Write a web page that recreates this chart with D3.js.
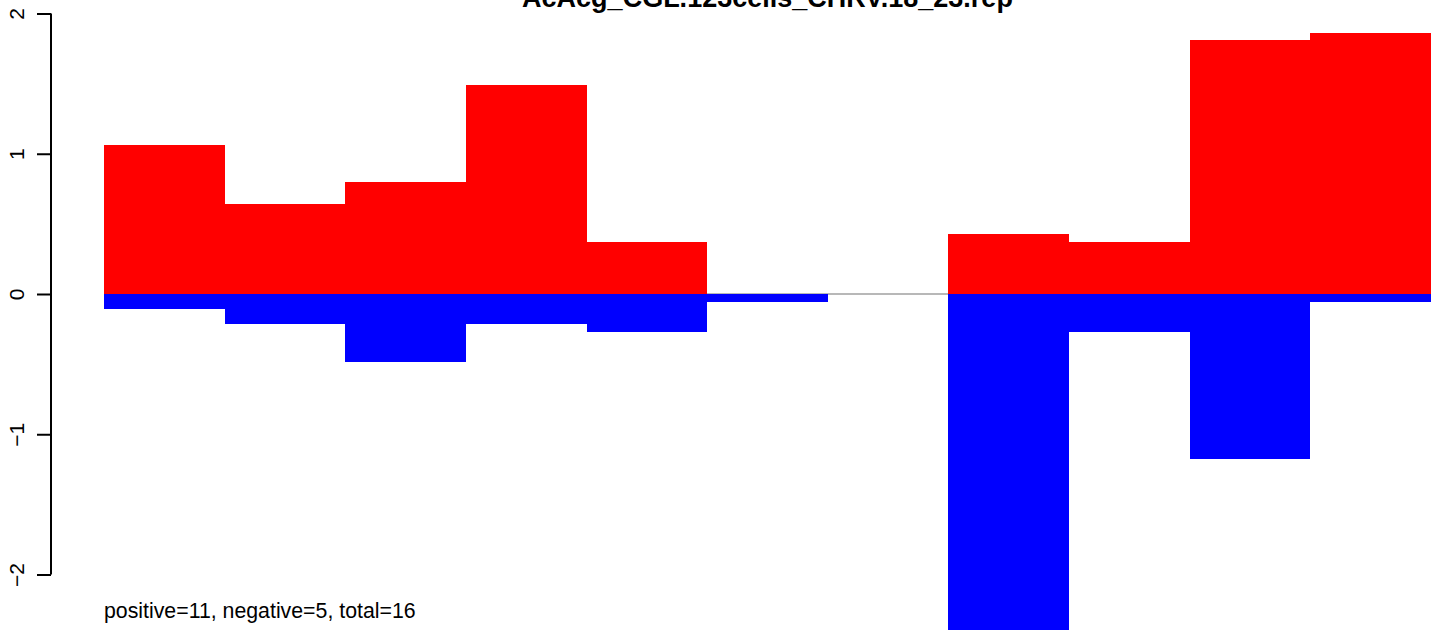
<!DOCTYPE html>
<html><head><meta charset="utf-8">
<script src="https://cdn.jsdelivr.net/npm/d3@7"></script>
<style>html,body{margin:0;padding:0;background:#fff;} svg{display:block;}</style>
</head><body>
<script>
const title = "AcAcg_CGL.123cells_CHRV.18_23.rep";
const bins = [1,2,3,4,5,6,7,8,9,10,11];
const positiveValues = [1.064, 0.643, 0.80, 1.493, 0.371, 0, 0, 0.429, 0.371, 1.814, 1.864];
const negativeValues = [-0.107, -0.214, -0.486, -0.214, -0.271, -0.057, 0, -2.394, -0.271, -1.179, -0.057];
const yTicks = [-2, -1, 0, 1, 2];
const footnote = "positive=11, negative=5, total=16";

const W = 1444, H = 641;
const svg = d3.select("body").append("svg").attr("width", W).attr("height", H);
const font = "Liberation Sans, Arial, Helvetica, sans-serif";

const x = d3.scaleLinear().domain([0, bins.length]).range([104, 1431]);
const y = d3.scaleLinear().domain([-2, 2]).range([574.5, 13.5]);

// zero line
svg.append("line").attr("x1", x(0)).attr("x2", x(bins.length))
  .attr("y1", y(0)).attr("y2", y(0)).attr("stroke", "#a0a0a0").attr("stroke-width", 1.5);

svg.append("g").selectAll("rect").data(bins).join("rect")
  .attr("x", (d,i) => x(i)).attr("width", (d,i) => x(i+1) - x(i))
  .attr("y", (d,i) => y(positiveValues[i]))
  .attr("height", (d,i) => y(0) - y(positiveValues[i]))
  .attr("fill", "#ff0000").attr("shape-rendering", "crispEdges");

svg.append("g").selectAll("rect").data(bins).join("rect")
  .attr("x", (d,i) => x(i)).attr("width", (d,i) => x(i+1) - x(i))
  .attr("y", y(0))
  .attr("height", (d,i) => y(negativeValues[i]) - y(0))
  .attr("fill", "#0000ff").attr("shape-rendering", "crispEdges");

// y axis
const axis = d3.axisLeft(y).tickValues(yTicks).tickSize(14).tickFormat(d => d < 0 ? "\u2212" + Math.abs(d) : d);
const gA = svg.append("g").attr("transform", "translate(51,0)").call(axis);
gA.select(".domain").attr("d", `M0,${y(2)}V${y(-2)}`).attr("stroke", "#000").attr("stroke-width", 2);
gA.selectAll(".tick line").attr("stroke", "#000").attr("stroke-width", 2);
gA.selectAll(".tick text")
  .attr("x", null).attr("dy", null)
  .attr("transform", "translate(-27,0) rotate(-90)")
  .attr("text-anchor", "middle")
  .attr("font-family", font).attr("font-size", 21).attr("fill", "#000");

svg.append("text").attr("x", (x(0) + x(bins.length)) / 2).attr("y", 7)
  .attr("text-anchor", "middle").attr("font-family", font)
  .attr("font-weight", "bold").attr("font-size", 27).text(title);

svg.append("text").attr("x", 104).attr("y", 618)
  .attr("font-family", font).attr("font-size", 21.3).text(footnote);
</script>
</body></html>
